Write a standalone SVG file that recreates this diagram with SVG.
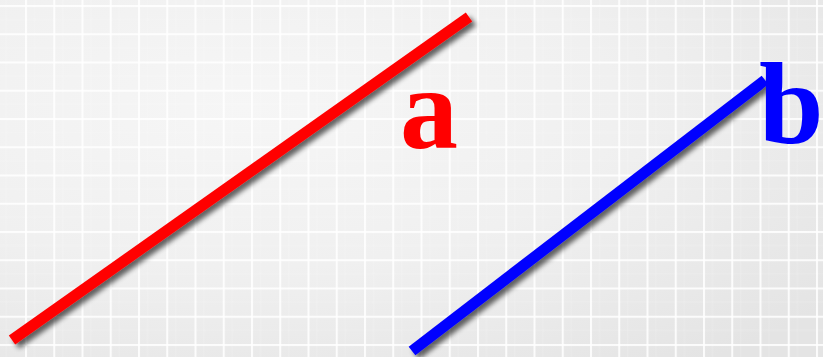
<svg xmlns="http://www.w3.org/2000/svg" width="823" height="357" viewBox="0 0 823 357">
<defs>
<radialGradient id="bg" cx="0.3" cy="0.3" r="0.9">
<stop offset="0" stop-color="#f6f6f6"/>
<stop offset="0.5" stop-color="#f0f0f0"/>
<stop offset="1" stop-color="#e4e4e4"/>
</radialGradient>
<pattern id="grid" x="25" y="5" width="28.25" height="28.25" patternUnits="userSpaceOnUse">
<rect x="0" y="0" width="2" height="28.25" fill="#ffffff" opacity="0.85"/>
<rect x="0" y="0" width="28.25" height="2" fill="#ffffff" opacity="0.85"/>
<rect x="9" y="0" width="1" height="28.25" fill="#ffffff" opacity="0.15"/>
<rect x="0" y="14" width="28.25" height="1" fill="#ffffff" opacity="0.15"/>
</pattern>
<filter id="shadow" x="-10%" y="-10%" width="130%" height="130%">
<feGaussianBlur in="SourceAlpha" stdDeviation="2.5"/>
<feOffset dx="4" dy="4" result="b"/>
<feComponentTransfer><feFuncA type="linear" slope="0.6"/></feComponentTransfer>
<feMerge><feMergeNode/><feMergeNode in="SourceGraphic"/></feMerge>
</filter>
<style>
.lbl{font-family:"Liberation Serif","Times New Roman",serif;font-weight:bold;font-size:116px}
</style>
</defs>
<rect width="823" height="357" fill="url(#bg)"/>
<rect width="823" height="357" fill="url(#grid)"/>
<g id="connectors" filter="url(#shadow)">
<line id="line-a" x1="12" y1="340" x2="469" y2="17" stroke="#ff0000" stroke-width="11"/>
<line id="line-b" x1="412" y1="351" x2="765" y2="80" stroke="#0000ff" stroke-width="11"/>
</g>
<g id="label-a"><text class="lbl" x="400" y="148" fill="#ff0000">a</text></g>
<g id="label-b"><text class="lbl" x="759" y="143" fill="#0000ff">b</text></g>
</svg>
